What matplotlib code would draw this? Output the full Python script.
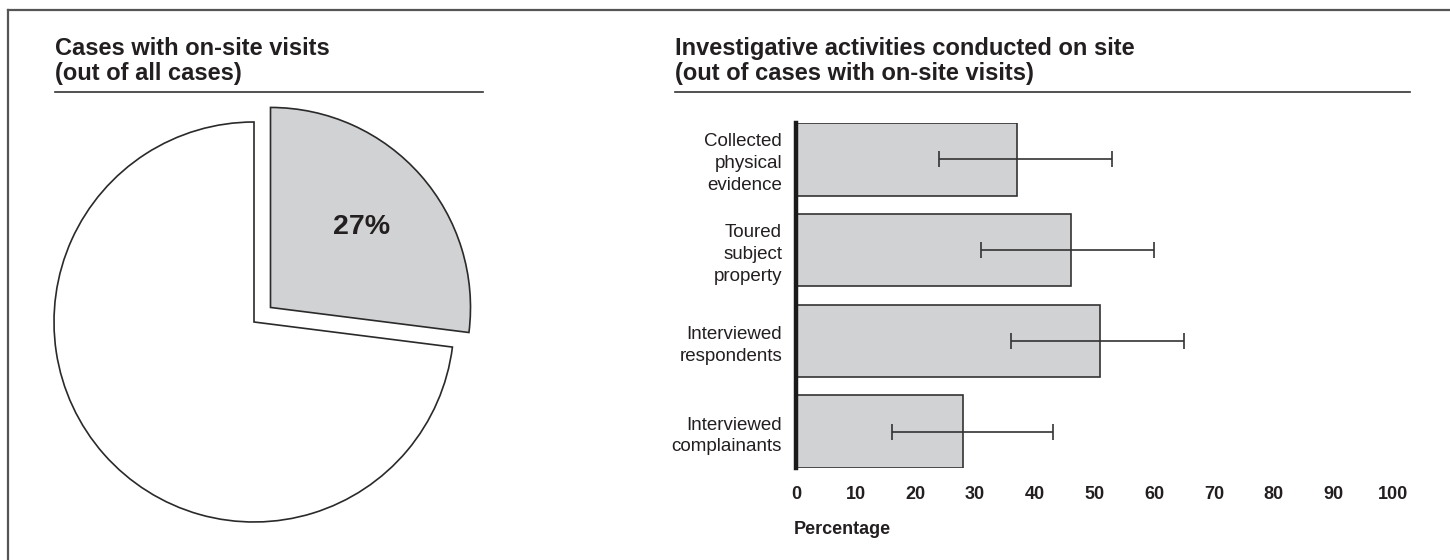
import matplotlib
matplotlib.use("Agg")
import matplotlib.pyplot as plt
from matplotlib.lines import Line2D
import numpy as np

plt.rcParams['font.family'] = ['Liberation Sans', 'DejaVu Sans']

# ---- data ----
pie_labels = ["On-site visit", "No on-site visit"]
pie_values = [27, 73]

categories = ["Collected\nphysical\nevidence", "Toured\nsubject\nproperty",
              "Interviewed\nrespondents", "Interviewed\ncomplainants"]
values = [37, 46, 51, 28]
ci_low = [24, 31, 36, 16]
ci_high = [53, 60, 65, 43]
xticks = [0, 10, 20, 30, 40, 50, 60, 70, 80, 90, 100]

left_title = "Cases with on-site visits\n(out of all cases)"
right_title = "Investigative activities conducted on site\n(out of cases with on-site visits)"
x_label = "Percentage"

W, H = 1450, 560
TXT = '#231f20'
GRAY = '#d1d2d4'
EDGE = '#2a2a2a'

fig = plt.figure(figsize=(W / 100, H / 100), dpi=100)

def fx(px):
    return px / W

def fy(py):
    return 1 - py / H

# frame border (top and left)
fig.add_artist(Line2D([fx(8), 1], [fy(10), fy(10)], color='#555555', lw=1.6, transform=fig.transFigure))
fig.add_artist(Line2D([fx(8), fx(8)], [fy(10), 0], color='#555555', lw=1.6, transform=fig.transFigure))

# titles
fig.text(fx(55), fy(37), left_title, ha='left', va='top', fontsize=17, fontweight='bold',
         color=TXT, linespacing=1.1)
fig.text(fx(675), fy(37), right_title, ha='left', va='top', fontsize=17, fontweight='bold',
         color=TXT, linespacing=1.1)
fig.add_artist(Line2D([fx(55), fx(483)], [fy(92), fy(92)], color='#333333', lw=1.2, transform=fig.transFigure))
fig.add_artist(Line2D([fx(675), fx(1410)], [fy(92), fy(92)], color='#333333', lw=1.2, transform=fig.transFigure))

# ---- pie ----
cx, cy, r = 254, 322, 200
axp = fig.add_axes([fx(cx - r), fy(cy + r), 2 * r / W, 2 * r / H])
wedges, texts, autotexts = axp.pie(
    pie_values, startangle=90, counterclock=False, explode=[0.11, 0],
    colors=[GRAY, 'white'],
    wedgeprops=dict(edgecolor=EDGE, linewidth=1.2),
    autopct=lambda p: f'{p:.0f}%' if p < 50 else '', pctdistance=0.61,
    textprops=dict(fontsize=20.5, fontweight='bold', color=TXT))
for w in wedges:
    w.set_clip_on(False)
axp.set_xlim(-1, 1)
axp.set_ylim(-1, 1)
axp.set_aspect('auto')
axp.axis('off')

# ---- bars ----
x0, x1 = 796, 1393
ytop, ybot = 123, 468
axb = fig.add_axes([fx(x0), fy(ybot), (x1 - x0) / W, (ybot - ytop) / H])
ypos = np.arange(len(categories))
vals = np.array(values)
xerr = [vals - np.array(ci_low), np.array(ci_high) - vals]
axb.barh(ypos, vals, height=0.8, color=GRAY, edgecolor='#333333', linewidth=1.2, zorder=2)
axb.errorbar(vals, ypos, xerr=xerr, fmt='none', ecolor='#333333', elinewidth=1.2,
             capsize=5.5, capthick=1.2, zorder=3)
axb.set_ylim(3.4, -0.4)
axb.set_xlim(0, 100)
axb.set_yticks(ypos)
axb.set_yticklabels(categories, fontsize=13.5, color=TXT, linespacing=1.36)
axb.set_xticks(xticks)
axb.set_xticklabels([str(t) for t in xticks], fontsize=13, fontweight='bold', color=TXT)
axb.tick_params(axis='both', length=0)
axb.tick_params(axis='x', pad=13)
axb.tick_params(axis='y', pad=10)
for s in ['top', 'right', 'bottom']:
    axb.spines[s].set_visible(False)
axb.spines['left'].set_linewidth(3.2)
axb.spines['left'].set_color('#1a1a1a')
axb.spines['left'].set_zorder(5)

fig.text(fx(794), fy(530), x_label, ha='left', va='center', fontsize=13, fontweight='bold', color=TXT)

fig.savefig('out.png', dpi=100, facecolor='white')
